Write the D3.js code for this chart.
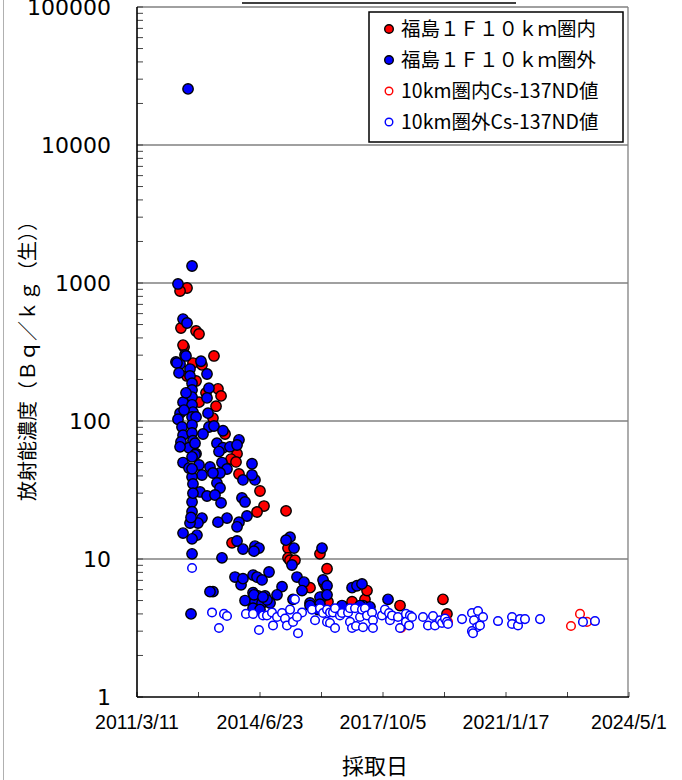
<!DOCTYPE html>
<html lang="ja">
<head>
<meta charset="utf-8">
<script src="https://d3js.org/d3.v7.min.js"></script>
<style>
  body { margin: 0; background: #fff; }
  svg { display: block; }
  .jp { font-family: "Noto Sans CJK JP", "Noto Sans", sans-serif; }
  .num { font-family: "DejaVu Sans", Verdana, sans-serif; }
</style>
</head>
<body>
<div id="chart"></div>
<script>
// days after 2011/3/11 and concentration (Bq/kg wet)
const inner10km = [
  [488,920],[420,875],[429,472],[576,449],[605,427],[459,344],[449,355],[751,296],
  [546,263],[634,255],[488,212],[576,195],[790,171],[820,152],[673,160],[605,137],
  [771,128],[741,105],[859,80.5],[976,58],[917,53],[966,50.5],[995,41.3],[1200,31.1],
  [1239,24.2],[1171,21.9],[1454,22.3],[927,13.1],[1463,13.7],[1473,12.0],[1473,10.2],
  [1493,9.8],[1541,9.8],[1785,10.9],[1854,8.5],[1688,6.2],[1824,6.7],[1844,6.3],
  [1863,4.9],[2098,4.9],[2224,5.1],[2244,5.9],[2566,4.6],[2985,5.1],[3024,4.0]
];
const outer10km = [
  [498,25500],[537,1328],[400,984],[449,548],[488,513],[468,301],[380,268],[420,259],
  [390,263],[478,296],[624,271],[410,223],[517,238],[517,212],[683,219],[537,188],
  [537,168],[702,173],[683,147],[537,149],[449,137],[537,131],[420,114],[546,116],
  [693,114],[400,103],[537,107],[576,107],[439,90.5],[537,93.5],[702,90.5],[751,92],
  [839,85],[644,80.5],[449,79],[537,82],[429,70.5],[546,72],[780,69],[839,64],
  [907,65],[995,73],[976,67],[507,64],[576,58],[800,60],[420,65],[566,69],[566,57],
  [829,50],[878,44.9],[1122,49],[449,50],[605,48],[507,45.6],[712,46.4],[810,42],
  [741,42],[634,40.6],[537,39.3],[1034,37.4],[1151,37.4],[1122,40.6],[780,35.6],
  [810,32.7],[615,30.6],[683,28.6],[761,29.1],[820,25.5],[537,25.9],[1024,27.7],
  [1054,25.9],[1073,20.5],[995,18.5],[878,19.8],[790,18.5],[634,19.8],[595,18.2],
  [517,18.2],[976,17.1],[449,15.4],[585,14.9],[537,14.0],[537,10.9],[976,13.5],
  [1034,11.8],[1151,12.4],[1190,12.0],[1141,11.4],[829,10.2],[1493,14.4],[1454,13.7],
  [1532,12.0],[1512,9.05],[1805,12.0],[956,7.4],[1015,6.5],[1034,7.2],[1132,7.65],
  [1171,7.4],[1220,7.05],[1288,8.05],[1415,6.3],[1561,7.4],[1629,6.8],[1610,5.9],
  [1815,7.05],[1854,6.4],[1805,5.3],[741,5.8],[712,5.8],[1132,5.7],[1180,5.4],
  [1249,5.4],[1366,5.5],[1054,5.0],[1151,4.9],[1220,4.8],[1298,4.8],[1268,5.05],
  [1141,5.5],[1229,5.3],[1522,5.1],[1785,5.3],[1688,4.8],[1785,4.7],[2000,4.6],
  [2205,4.6],[2273,4.5],[527,4.0],[1132,4.4],[1200,4.3],[1688,4.6],[1766,4.3],
  [1854,5.5],[2098,6.2],[2146,6.4],[2195,6.6],[2449,5.1],[2176,4.6],
  [537,55],[537,45],[546,35],[546,30],[537,22],[527,20],[459,120],[478,160]
];
const inner10kmND = [[2576,3.16],[3034,3.5],[4234,3.27],[4322,4.0],[4390,3.5]];
const outer10kmND = [
  [537,8.6],[732,4.1],[849,4.0],[878,3.86],[800,3.16],[1063,4.0],[1132,4.0],[1190,3.06],
  [1229,3.9],[1268,3.9],[1317,4.1],[1327,3.3],[1366,3.8],[1415,4.06],[1444,3.7],
  [1463,3.3],[1493,4.3],[1522,3.5],[1541,5.1],[1571,2.9],[1610,4.1],[1561,3.8],
  [1707,4.3],[1737,3.6],[1785,4.4],[1815,4.06],[1854,4.3],[1854,3.5],[1883,4.1],
  [1883,3.44],[1912,4.1],[1932,4.4],[1932,3.16],[1980,3.9],[2000,4.06],[2059,4.1],
  [2078,3.5],[2078,4.4],[2098,3.16],[2127,4.4],[2137,3.27],[2176,3.8],[2195,4.3],
  [2205,3.2],[2224,4.4],[2244,3.9],[2293,4.1],[2302,3.6],[2302,3.16],[2390,3.9],
  [2419,4.3],[2459,4.06],[2468,3.6],[2488,3.9],[2546,3.8],[2566,3.16],[2624,4.0],
  [2624,3.5],[2654,3.3],[2663,3.9],[2683,3.8],[2790,3.8],[2839,3.3],[2888,3.86],
  [2907,3.3],[2956,3.6],[2976,3.44],[3005,3.7],[3024,3.5],[3034,3.38],[3171,3.67],
  [3268,4.06],[3327,4.2],[3288,3.6],[3317,3.2],[3268,3.0],[3278,2.9],[3346,3.3],
  [3376,3.8],[3522,3.55],[3659,3.8],[3659,3.38],[3717,3.3],[3737,3.67],[3785,3.67],
  [3932,3.67],[4351,3.5],[4468,3.55]
];
const xTickDays = [0, 1200, 2400, 3600, 4800];
const yTicks = [1, 10, 100, 1000, 10000, 100000];
const legendLabels = ["福島１Ｆ１０ｋｍ圏内", "福島１Ｆ１０ｋｍ圏外", "10km圏内Cs-137ND値", "10km圏外Cs-137ND値"];

const width = 682, height = 780;
const svg = d3.select("#chart").append("svg").attr("width", width).attr("height", height);

const x = d3.scaleLinear().domain([0, 4800]).range([137, 629]);
const y = d3.scaleLog().domain([1, 100000]).range([697, 7]);
const origin = new Date(2011, 2, 11);
const fmt = d3.timeFormat("%Y/%-m/%-d");

// chart area edge + title underline
svg.append("line").attr("x1", 3.5).attr("x2", 3.5).attr("y1", 0).attr("y2", height)
  .attr("stroke", "#b0b0b0").attr("stroke-width", 1);
svg.append("line").attr("x1", 242).attr("x2", 516).attr("y1", 3).attr("y2", 3)
  .attr("stroke", "#000").attr("stroke-width", 1.5);

// gridlines
svg.append("g").selectAll("line").data(yTicks.slice(1)).join("line")
  .attr("x1", 137).attr("x2", 628).attr("y1", d => y(d)).attr("y2", d => y(d))
  .attr("stroke", "#808080").attr("stroke-width", 1.3);
svg.append("line").attr("x1", 628).attr("x2", 628).attr("y1", 7).attr("y2", 697)
  .attr("stroke", "#808080").attr("stroke-width", 1.3);

// y minor ticks
const minor = [];
for (let e = 0; e < 5; e++) for (let m = 1; m <= 9; m++) minor.push(m * Math.pow(10, e));
minor.push(100000);
svg.append("g").selectAll("line").data(minor).join("line")
  .attr("x1", 137).attr("x2", 143).attr("y1", d => y(d)).attr("y2", d => y(d))
  .attr("stroke", "#444").attr("stroke-width", 1);

// x ticks
svg.append("g").selectAll("line").data(d3.range(0, 4801, 600)).join("line")
  .attr("x1", d => x(d)).attr("x2", d => x(d)).attr("y1", 697).attr("y2", 692)
  .attr("stroke", "#444").attr("stroke-width", 1);

// axes lines
svg.append("line").attr("x1", 137).attr("x2", 137).attr("y1", 7).attr("y2", 697)
  .attr("stroke", "#000").attr("stroke-width", 1.6);
svg.append("line").attr("x1", 137).attr("x2", 629).attr("y1", 697).attr("y2", 697)
  .attr("stroke", "#000").attr("stroke-width", 1.6);

// tick labels
svg.append("g").selectAll("text").data(yTicks).join("text")
  .attr("class", "num").attr("x", 111).attr("y", d => y(d)).attr("dy", "0.36em")
  .attr("text-anchor", "end").attr("font-size", 22).attr("fill", "#000")
  .text(d => d);
svg.append("g").selectAll("text").data(xTickDays).join("text")
  .attr("x", d => x(d)).attr("y", 729).attr("text-anchor", "middle")
  .attr("font-family", "'Liberation Sans', Arial, sans-serif").attr("font-size", 19.5)
  .text(d => fmt(d3.timeDay.offset(origin, d)));

// axis titles
svg.append("text").attr("class", "jp").attr("x", 375).attr("y", 774)
  .attr("text-anchor", "middle").attr("font-size", 22).text("採取日");
svg.append("text").attr("class", "jp")
  .attr("transform", "translate(35,356) rotate(-90)")
  .attr("text-anchor", "middle").attr("font-size", 20)
  .text("放射能濃度（Ｂｑ／ｋｇ（生））");

// points
const series = [
  { data: inner10km, fill: "#ff0000", stroke: "#000", r: 5.2, sw: 1.4 },
  { data: outer10km, fill: "#0000ff", stroke: "#000", r: 5.2, sw: 1.4 },
  { data: inner10kmND, fill: "#fff", stroke: "#ff0000", r: 4.3, sw: 1.5 },
  { data: outer10kmND, fill: "#fff", stroke: "#0000ff", r: 4.3, sw: 1.5 }
];
series.forEach(s => {
  svg.append("g").selectAll("circle").data(s.data).join("circle")
    .attr("cx", d => x(d[0])).attr("cy", d => y(d[1])).attr("r", s.r)
    .attr("fill", s.fill).attr("stroke", s.stroke).attr("stroke-width", s.sw);
});

// legend
const lg = svg.append("g");
lg.append("rect").attr("x", 369).attr("y", 12).attr("width", 254).attr("height", 130)
  .attr("fill", "#fff").attr("stroke", "#000").attr("stroke-width", 1.5);
const ly = d3.scalePoint().domain(d3.range(4)).range([29, 122]);
lg.selectAll("circle").data(series).join("circle")
  .attr("cx", 389).attr("cy", (d, i) => ly(i)).attr("r", (d, i) => i < 2 ? 4.3 : 3.8)
  .attr("fill", d => d.fill).attr("stroke", d => d.stroke).attr("stroke-width", 1.4);
lg.selectAll("text").data(legendLabels).join("text")
  .attr("class", "jp").attr("x", 401).attr("y", (d, i) => ly(i)).attr("dy", "0.36em")
  .attr("font-size", 19.5).text(d => d);
</script>
</body>
</html>
